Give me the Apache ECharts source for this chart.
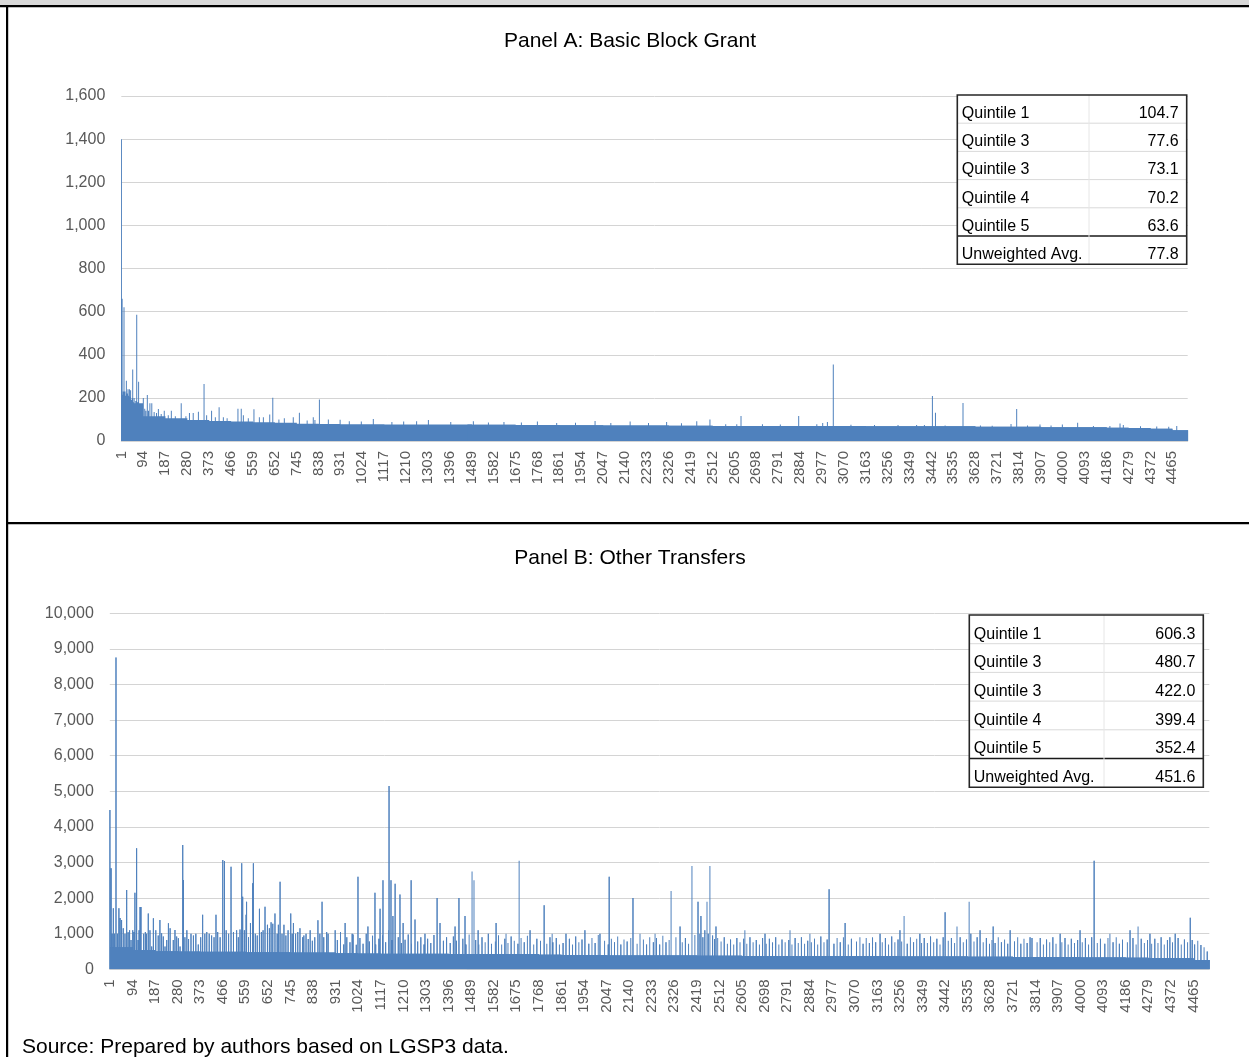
<!DOCTYPE html>
<html>
<head>
<meta charset="utf-8">
<script src="https://cdn.jsdelivr.net/npm/echarts@6/dist/echarts.min.js"></script>
<style>
  html, body { margin: 0; padding: 0; background: #ffffff; }
  #chart { width: 1249px; height: 1057px; }
</style>
</head>
<body>
<div id="chart"></div>
<script>
// Number of local governments (bars) in each panel and the label step on the x axis
const barCount = 4530;
const blockSize = 93;

// Panel A: Basic Block Grant — typical bar height in each block of 93 units
const grantLevels = [175,115,105,97,93,90,87,85,80,79,78,78,77,77,76,76,75,75,74,74,
  73,73,72,72,72,71,71,70,70,70,70,70,69,69,68,68,68,68,68,66,
  66,66,64,64,64,62,60,57,50];
// Panel A: individual bars standing out of the band [unit number, value]
const grantPeaks = [[1,1400],[2,210],[3,230],[4,660],[5,200],[6,215],[7,190],[9,229],[12,620],[14,200],
  [16,230],[18,182],[20,210],[22,280],[25,220],[29,240],[31,210],[35,240],[38,205],[40,235],
  [44,190],[47,200],[49,332],[52,180],[55,200],[58,170],[62,185],[66,585],[70,180],[74,275],
  [77,170],[80,175],[84,160],[88,165],[94,200],[100,150],[105,140],[111,213],[116,140],[122,175],
  [130,175],[140,135],[150,130],[158,148],[170,125],[183,140],[200,120],[213,140],[230,115],[255,175],
  [275,115],[290,130],[306,130],[328,136],[352,264],[363,120],[384,140],[400,110],[416,156],[434,110],
  [450,105],[496,150],[510,150],[519,120],[540,105],[564,147],[587,110],[604,110],[631,123],[644,201],
  [670,100],[693,105],[731,110],[757,131],[790,95],[816,110],[823,97],[842,193],[880,100],[930,98],
  [969,92],[1020,90],[1071,102],[1150,88],[1200,90],[1255,92],[1305,97],[1400,88],[1496,92],[1560,86],
  [1626,88],[1700,86],[1768,90],[1850,84],[1930,85],[2013,93],[2080,84],[2162,90],[2240,83],[2317,88],
  [2380,82],[2445,92],[2501,100],[2568,78],[2615,78],[2633,116],[2724,78],[2800,77],[2878,116],[2955,78],
  [2980,83],[3000,88],[3025,355],[3100,75],[3200,74],[3300,74],[3379,74],[3412,74],[3446,209],[3459,131],
  [3500,72],[3576,176],[3650,72],[3700,71],[3780,79],[3804,148],[3850,72],[3903,77],[3950,72],[3998,77],
  [4063,85],[4130,70],[4200,70],[4243,81],[4257,74],[4330,68],[4399,67],[4450,66],[4484,70]];

// Panel B: Other Transfers — typical bar height in each block of 93 units
const transferLevels = [620,540,510,500,490,490,480,480,470,470,
  450,445,440,440,435,430,430,425,420,410,
  400,395,390,390,390,385,380,380,375,375,
  370,370,368,365,365,362,360,360,355,350,
  340,340,335,330,330,325,320,310,260];
// Panel B: the uneven top of the band — moderate bars across the later blocks [unit, value]
const transferFringe = [
  [938,820],[951,1050],[964,700],[977,900],[990,760],[1003,980],[1016,690],
  [1031,880],[1044,720],[1057,1000],[1070,780],[1083,940],[1096,700],[1109,860],
  [1124,950],[1137,760],[1150,1100],[1163,820],[1189,900],[1202,740],
  [1217,830],[1230,980],[1243,720],[1269,780],[1282,900],[1295,700],
  [1310,860],[1323,740],[1336,960],[1375,800],[1388,900],
  [1403,740],[1416,920],[1429,800],[1455,860],[1468,700],[1481,980],
  [1508,820],[1521,700],[1534,900],[1547,760],[1560,1000],[1573,720],
  [1589,780],[1602,950],[1615,700],[1628,860],[1641,740],[1654,920],[1667,800],
  [1682,720],[1695,880],[1708,760],[1721,940],[1747,700],[1760,860],
  [1775,800],[1801,720],[1814,900],[1827,760],[1840,880],[1853,700],
  [1868,740],[1894,860],[1907,700],[1920,920],[1933,760],[1946,840],
  [1974,720],[1987,880],[2000,740],[2013,960],[2039,800],
  [2054,700],[2067,860],[2080,760],[2093,920],[2106,700],[2119,840],[2132,780],
  [2147,880],[2173,720],[2199,840],[2212,700],[2225,900],
  [2240,760],[2253,880],[2266,700],[2279,940],[2292,760],[2305,820],
  [2333,900],[2359,760],[2372,880],[2385,720],[2411,960],
  [2431,1000],[2444,900],[2452,1100],[2466,1000],[2484,950],[2492,850],[2505,880],
  [2519,780],[2532,900],[2545,720],[2558,840],[2571,700],[2584,880],[2597,760],
  [2612,860],[2625,720],[2638,900],[2651,760],[2664,820],[2677,700],[2690,880],
  [2705,720],[2718,860],[2731,760],[2744,900],[2757,700],[2770,840],[2783,760],
  [2798,820],[2811,700],[2824,880],[2837,740],[2850,900],[2863,720],[2876,800],
  [2891,760],[2904,860],[2917,700],[2930,920],[2943,760],[2956,840],
  [2984,720],[2997,880],[3010,760],[3023,900],[3043,700],[3056,860],
  [3077,780],[3104,720],[3117,880],[3130,740],[3143,900],[3156,760],
  [3183,760],[3196,880],[3209,700],[3222,920],[3235,760],[3248,840],
  [3263,780],[3286,720],[3299,900],[3312,760],[3325,860],[3345,740],
  [3356,880],[3369,740],[3382,920],[3395,760],[3408,860],[3421,700],[3434,900],
  [3455,800],[3468,880],[3481,740],[3504,900],[3517,760],[3530,840],
  [3548,1000],[3561,780],[3574,900],[3599,760],[3612,880],[3625,720],
  [3635,820],[3648,740],[3661,900],[3674,760],[3687,840],[3700,720],
  [3728,780],[3741,900],[3754,720],[3767,860],[3780,740],[3800,880],
  [3821,760],[3834,880],[3847,700],[3860,840],[3873,760],[3886,900],[3899,720],
  [3923,760],[3936,880],[3949,700],[3962,860],[3975,740],[3988,820],
  [4007,760],[4020,880],[4033,700],[4046,900],[4069,740],[4082,860],
  [4100,720],[4113,880],[4134,760],[4147,900],[4160,720],[4173,840],
  [4193,760],[4216,880],[4229,700],[4250,860],[4263,740],[4276,820],
  [4293,720],[4306,860],[4319,740],[4332,900],[4345,700],[4358,820],
  [4379,760],[4402,880],[4415,700],[4428,840],[4441,760],[4460,820],
  [4470,700],[4483,800],[4496,680],[4509,620],[4522,500]];
// Panel B: individual bars standing out of the band [unit number, value]
const transferPeaks = [[1,4475],[3,3960],[6,2840],[10,1000],[15,1713],[20,1000],[26,8760],[32,1000],[38,1713],[43,1440],
  [49,1386],[56,1150],[63,1000],[70,2227],[76,1040],[82,1100],[88,824],[95,1100],[100,1050],[104,2152],
  [111,3399],[117,820],[121,1100],[125,1750],[129,1750],[140,1000],[147,1050],[152,1000],[159,1570],[166,1100],
  [173,640],[180,1433],[190,1100],[200,950],[207,1386],[214,1011],[221,918],[228,640],[235,824],[242,1292],
  [249,1152],[262,820],[269,1105],[276,918],[283,870],[290,640],[301,3491],[304,2508],[310,900],[318,1100],
  [325,850],[335,1000],[345,950],[355,1000],[365,700],[375,900],[383,1530],[392,1000],[400,1050],[410,1000],
  [420,950],[430,900],[438,1530],[445,1050],[455,900],[466,3070],[473,3040],[480,1100],[490,1000],[500,2882],
  [510,1050],[523,1100],[530,900],[537,1120],[544,2977],[548,2040],[555,1100],[562,1530],[564,1900],[572,900],
  [580,1300],[589,2415],[592,2977],[600,1000],[608,950],[617,1700],[625,1050],[632,1100],[640,1760],[650,1250],
  [658,1150],[665,1320],[672,1280],[681,1570],[690,1000],[695,1250],[702,2462],[710,1000],[718,1250],[726,950],
  [735,1100],[746,1570],[752,1000],[757,1300],[766,1000],[775,1050],[784,1150],[795,900],[800,950],[809,1000],
  [818,850],[826,1100],[835,800],[845,900],[858,1380],[866,1000],[875,1900],[882,900],[894,1050],[900,1000],
  [929,1100],[970,1300],[999,1000],[1023,2600],[1064,1200],[1093,2150],[1114,1700],[1126,2500],[1151,5150],[1159,2500],
  [1167,1500],[1176,2400],[1196,2100],[1209,1300],[1242,2500],[1258,1400],[1299,1000],[1349,2000],[1361,1300],[1423,1200],
  [1439,2000],[1464,1500],[1493,2750],[1501,2500],[1518,1100],[1592,1300],[1633,1000],[1687,3050],[1732,1100],[1790,1800],
  [1823,1000],[1880,1000],[1958,1100],[2020,1000],[2058,2600],[2156,2000],[2185,1000],[2247,1000],[2313,2200],[2350,1200],
  [2399,2900],[2424,1900],[2436,1500],[2461,1900],[2473,2900],[2498,1200],[2617,1100],[2700,1000],[2803,1100],[2885,1000],
  [2964,2250],[3030,1300],[3091,900],[3174,1000],[3256,1100],[3273,1500],[3338,1000],[3442,1600],[3491,1200],[3541,1900],
  [3586,1100],[3640,1200],[3710,1100],[3792,900],[3916,1000],[3998,1100],[4056,3050],[4121,1000],[4204,1100],[4237,1200],
  [4286,1000],[4368,900],[4390,1000],[4452,1450]];

// Summary tables drawn inside each panel
const quintileLabels = ['Quintile 1','Quintile 3','Quintile 3','Quintile 4','Quintile 5','Unweighted Avg.'];
const grantAverages = ['104.7','77.6','73.1','70.2','63.6','77.8'];
const transferAverages = ['606.3','480.7','422.0','399.4','352.4','451.6'];

const panelTitles = ['Panel A: Basic Block Grant', 'Panel B: Other Transfers'];
const sourceNote = 'Source: Prepared by authors based on LGSP3 data.';

// Build the per-unit series from the block levels and the listed bars
function buildSeries(levels, ...lists) {
  const out = new Array(barCount);
  for (let i = 0; i < barCount; i++) out[i] = levels[Math.floor(i / blockSize)];
  lists.forEach(list => list.forEach(([unit, v]) => { out[unit - 1] = v; }));
  return out;
}
const unitLabels = [];
for (let i = 1; i <= barCount; i++) unitLabels.push(String(i));
const grantValues = buildSeries(grantLevels, grantPeaks);
const transferValues = buildSeries(transferLevels, transferFringe, transferPeaks);

const FONT = '"Liberation Sans", Arial, sans-serif';
const BAR_COLOR = '#4f81bd';
const GRID_COLOR = '#d4d4d4';
const LABEL_COLOR = '#595959';

function xAxisFor(gridIndex) {
  return {
    type: 'category', gridIndex, data: unitLabels, boundaryGap: true,
    axisTick: { show: false },
    axisLine: { show: true, lineStyle: { color: GRID_COLOR, width: 1 } },
    axisLabel: { interval: blockSize - 1, rotate: 90, margin: 10, color: LABEL_COLOR,
      fontFamily: FONT, fontSize: 15 },
    splitLine: { show: false }
  };
}
function yAxisFor(gridIndex, max, step) {
  return {
    type: 'value', gridIndex, min: 0, max, interval: step,
    axisLine: { show: false }, axisTick: { show: false },
    axisLabel: { margin: 16, color: LABEL_COLOR, fontFamily: FONT, fontSize: 16,
      formatter: v => v.toLocaleString('en-US') },
    splitLine: { lineStyle: { color: GRID_COLOR, width: 1 } }
  };
}

// Summary table as graphic elements
function tableGraphic(left, top, width, rowH, splitX, values) {
  const els = [];
  const h = rowH * quintileLabels.length;
  els.push({ type: 'rect', shape: { x: left, y: top, width, height: h },
    style: { fill: '#ffffff', stroke: 'none' }, z: 10 });
  for (let i = 1; i < quintileLabels.length; i++) {
    const y = top + rowH * i;
    const last = i === quintileLabels.length - 1;
    els.push({ type: 'line', shape: { x1: left, y1: y, x2: left + width, y2: y },
      style: { stroke: last ? '#1a1a1a' : '#d9d9d9', lineWidth: last ? 1.5 : 1 }, z: 11 });
  }
  els.push({ type: 'line', shape: { x1: splitX, y1: top, x2: splitX, y2: top + h },
    style: { stroke: '#e6e6e6', lineWidth: 1 }, z: 11 });
  els.push({ type: 'rect', shape: { x: left, y: top, width, height: h },
    style: { fill: 'none', stroke: '#262626', lineWidth: 1.6 }, z: 12 });
  quintileLabels.forEach((lab, i) => {
    const yMid = top + rowH * (i + 1) - 9.6;
    els.push({ type: 'text', x: left + 4.5, y: yMid, z: 13,
      style: { text: lab, font: '16px ' + FONT, fill: '#000000',
        textAlign: 'left', align: 'left', textVerticalAlign: 'middle', verticalAlign: 'middle' } });
    els.push({ type: 'text', x: left + width - 8, y: yMid, z: 13,
      style: { text: values[i], font: '16px ' + FONT, fill: '#000000',
        textAlign: 'right', align: 'right', textVerticalAlign: 'middle', verticalAlign: 'middle' } });
  });
  return els;
}

function centeredText(text, x, y, size) {
  return { type: 'text', x, y, z: 20,
    style: { text, font: size + 'px ' + FONT, fill: '#000000',
      textAlign: 'center', align: 'center', textVerticalAlign: 'middle', verticalAlign: 'middle' } };
}

const frame = [
  { type: 'rect', shape: { x: 0, y: 0, width: 1249, height: 5 }, style: { fill: '#d9d9d9' }, z: 30 },
  { type: 'rect', shape: { x: 0, y: 5, width: 1249, height: 2.2 }, style: { fill: '#000000' }, z: 30 },
  { type: 'rect', shape: { x: 6, y: 5, width: 2.2, height: 1052 }, style: { fill: '#000000' }, z: 30 },
  { type: 'rect', shape: { x: 6, y: 522, width: 1243, height: 2.2 }, style: { fill: '#000000' }, z: 30 }
];

const chart = echarts.init(document.getElementById('chart'), null, { renderer: 'canvas' });
chart.setOption({
  animation: false,
  backgroundColor: '#ffffff',
  grid: [
    { left: 121.3, top: 96, width: 1066.4, height: 345, outerBoundsMode: 'none' },
    { left: 109.8, top: 613.3, width: 1099.5, height: 356, outerBoundsMode: 'none' }
  ],
  xAxis: [xAxisFor(0), xAxisFor(1)],
  yAxis: [yAxisFor(0, 1600, 200), yAxisFor(1, 10000, 1000)],
  series: [
    { type: 'bar', xAxisIndex: 0, yAxisIndex: 0, data: grantValues, barWidth: 1,
      large: true, silent: true, itemStyle: { color: BAR_COLOR } },
    { type: 'bar', xAxisIndex: 1, yAxisIndex: 1, data: transferValues, barWidth: 1,
      large: true, silent: true, itemStyle: { color: BAR_COLOR } }
  ],
  graphic: [].concat(
    frame,
    [centeredText(panelTitles[0], 630, 41, 21), centeredText(panelTitles[1], 630, 558, 21)],
    tableGraphic(957.3, 95, 229.4, 28.2, 1089, grantAverages),
    tableGraphic(969.3, 615, 234, 28.7, 1104, transferAverages),
    [{ type: 'text', x: 22, y: 1047.5, z: 20,
       style: { text: sourceNote, font: '21px ' + FONT, fill: '#000000',
         textAlign: 'left', align: 'left', textVerticalAlign: 'middle', verticalAlign: 'middle' } }]
  )
});
</script>
</body>
</html>
